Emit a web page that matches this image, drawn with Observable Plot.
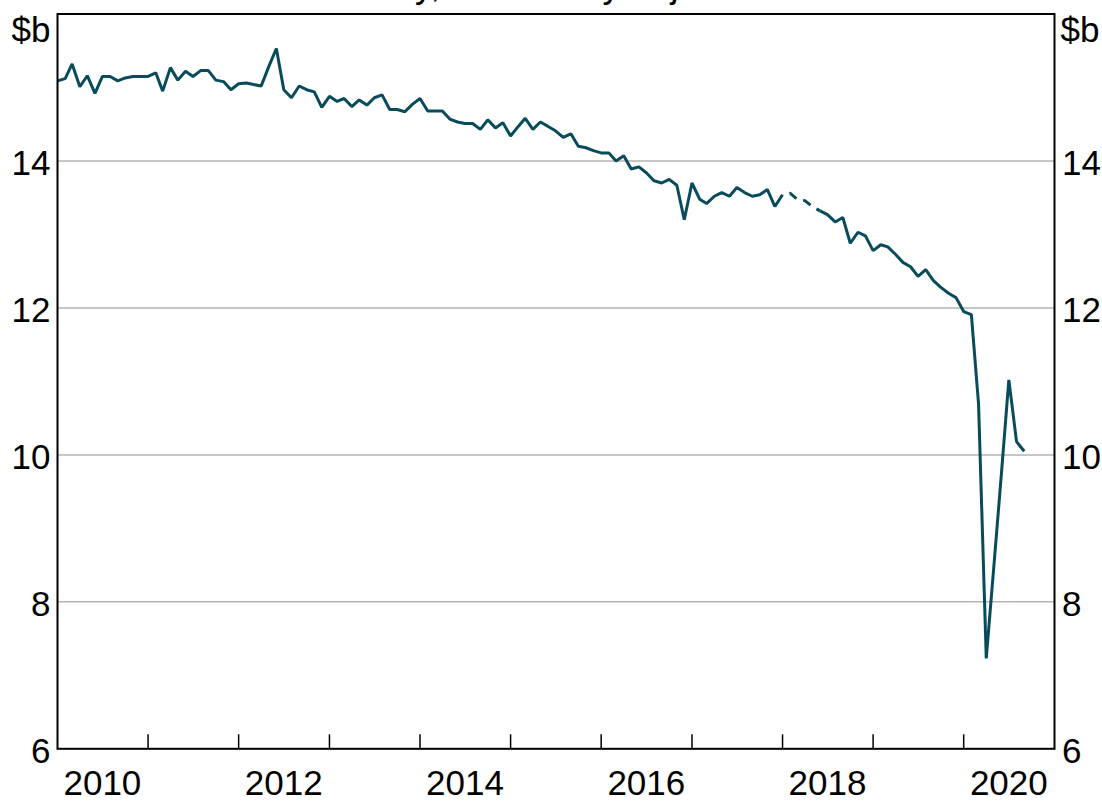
<!DOCTYPE html>
<html><head><meta charset="utf-8">
<script src="https://cdn.jsdelivr.net/npm/d3@7"></script>
<script src="https://cdn.jsdelivr.net/npm/@observablehq/plot@0.6"></script>
<style>
html,body{margin:0;padding:0;background:#fff;}
body{position:relative;width:1102px;height:802px;overflow:hidden;font-family:"Liberation Sans",Arial,sans-serif;}
#title{position:absolute;left:307px;top:-33px;font-size:36px;line-height:36px;white-space:nowrap;color:#000;z-index:2;}
#chart{position:absolute;left:0;top:0;}
</style></head><body>
<div id="chart"></div>
<div id="title">Monthly, seasonally adjusted</div>
<script>
// Monthly values, $b, starting January 2010
const startMonth = "2010-01";
const values = [
  15.09, 15.12, 15.32, 15.01, 15.16, 14.92, 15.15, 15.15, 15.09, 15.13, 15.15, 15.15,
  15.15, 15.20, 14.95, 15.27, 15.10, 15.22, 15.15, 15.23, 15.23, 15.10, 15.08, 14.97,
  15.05, 15.06, 15.04, 15.02, 15.28, 15.53, 14.97, 14.86, 15.02, 14.97, 14.94, 14.73,
  14.88, 14.81, 14.85, 14.74, 14.83, 14.76, 14.86, 14.90, 14.70, 14.70, 14.67, 14.77,
  14.85, 14.68, 14.68, 14.68, 14.57, 14.53, 14.51, 14.51, 14.43, 14.56, 14.45, 14.52,
  14.34, 14.47, 14.58, 14.43, 14.53, 14.47, 14.41, 14.32, 14.37, 14.20, 14.18, 14.14,
  14.11, 14.11, 14.00, 14.07, 13.89, 13.92, 13.84, 13.73, 13.70, 13.75, 13.67, 13.20,
  13.70, 13.48, 13.42, 13.52, 13.57, 13.52, 13.64, 13.57, 13.52, 13.54, 13.61, 13.38,
  13.54, 13.56, 13.48, 13.46, 13.38, 13.32, 13.27, 13.17, 13.23, 12.88, 13.03, 12.98,
  12.78, 12.86, 12.83, 12.73, 12.62, 12.56, 12.43, 12.52, 12.37, 12.28, 12.20, 12.14,
  11.95, 11.91, 10.69, 7.23, 8.46, 9.74, 11.02, 10.18, 10.05
];
// Series break (drawn dashed)
const breakStart = "2018-01";
const breakEnd = "2018-06";

const gridValues = [8, 10, 12, 14];
const yTickLabels = [6, 8, 10, 12, 14];
const unitLabel = "$b";
const tickYears = [2011, 2012, 2013, 2014, 2015, 2016, 2017, 2018, 2019, 2020];
const labelYears = [2010, 2012, 2014, 2016, 2018, 2020];
const xDomain = ["2010-01", "2021-01"];

const lineColor = "#084b5b";
const parseM = d3.utcParse("%Y-%m");
const t0 = parseM(startMonth);
const data = values.map((v, i) => ({date: d3.utcMonth.offset(t0, i), value: v}));
const bS = parseM(breakStart), bE = parseM(breakEnd);
const solidA = data.filter(d => d.date <= bS);
const dashed = data.filter(d => d.date >= bS && d.date <= bE);
const solidB = data.filter(d => d.date >= bE);

const font = '"Liberation Sans", Arial, sans-serif';
const chart = Plot.plot({
  width: 1102,
  height: 802,
  marginLeft: 57,
  marginRight: 48,
  marginTop: 13.5,
  marginBottom: 53.7,
  style: {fontFamily: font, fontSize: "35px", background: "white", overflow: "visible"},
  x: {type: "utc", domain: xDomain.map(parseM), axis: null},
  y: {domain: [6, 16], axis: null},
  marks: [
    Plot.ruleY(gridValues, {y: d => d, stroke: "#b3b3b3", strokeWidth: 1.5}),
    Plot.line(solidA, {x: "date", y: "value", stroke: lineColor, strokeWidth: 3, strokeLinejoin: "miter", strokeLinecap: "butt"}),
    Plot.line(dashed, {x: "date", y: "value", stroke: lineColor, strokeWidth: 3, strokeDasharray: "9,7", strokeDashoffset: 9, strokeLinecap: "butt"}),
    Plot.line(solidB, {x: "date", y: "value", stroke: lineColor, strokeWidth: 3, strokeLinejoin: "miter", strokeLinecap: "butt"}),
    Plot.ruleX(tickYears, {x: d => new Date(Date.UTC(d, 0, 1)), insetTop: 720.8, stroke: "#000", strokeWidth: 1.5}),
    Plot.frame({stroke: "#000", strokeWidth: 2}),
    Plot.text(yTickLabels, {y: d => d, text: d => String(d), frameAnchor: "left", textAnchor: "end", dx: -7, dy: 3, fontSize: 35, fill: "#000"}),
    Plot.text(yTickLabels, {y: d => d, text: d => String(d), frameAnchor: "right", textAnchor: "start", dx: 7.5, dy: 3, fontSize: 35, fill: "#000"}),
    Plot.text([unitLabel], {text: d => d, frameAnchor: "top-left", textAnchor: "end", lineAnchor: "top", dx: -7, dy: 3.5, fontSize: 35, fill: "#000"}),
    Plot.text([unitLabel], {text: d => d, frameAnchor: "top-right", textAnchor: "start", lineAnchor: "top", dx: 6, dy: 3.5, fontSize: 35, fill: "#000"}),
    Plot.text(labelYears, {x: d => new Date(Date.UTC(d, 6, 1)), text: d => String(d), frameAnchor: "bottom", lineAnchor: "middle", dy: 34.8, fontSize: 35, fill: "#000"})
  ]
});
document.getElementById("chart").appendChild(chart);
</script>
</body></html>
